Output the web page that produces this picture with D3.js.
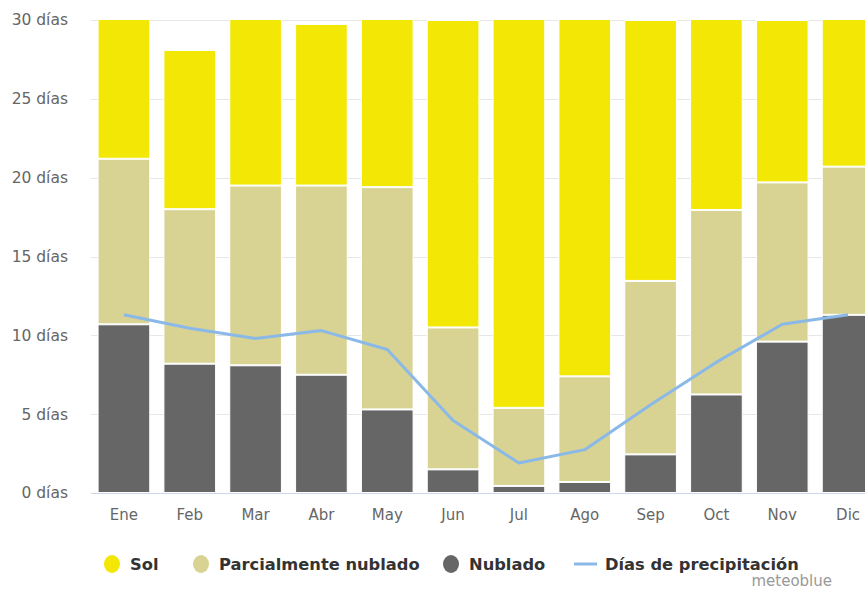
<!DOCTYPE html>
<html>
<head>
<meta charset="utf-8">
<script src="https://cdnjs.cloudflare.com/ajax/libs/d3/7.8.5/d3.min.js"></script>
<style>
    body { margin: 0; background: #fff; }
    svg { display: block; font-family: "DejaVu Sans", Verdana, sans-serif; }
</style>
</head>
<body>
<script>
//Chart data (days per month)
var months = ["Ene", "Feb", "Mar", "Abr", "May", "Jun", "Jul", "Ago", "Sep", "Oct", "Nov", "Dic"];
var nublado = [10.7, 8.2, 8.1, 7.5, 5.3, 1.5, 0.45, 0.7, 2.45, 6.25, 9.6, 11.3];
var parcial = [10.5, 9.8, 11.4, 12.0, 14.1, 9.0, 4.95, 6.7, 11.0, 11.7, 10.1, 9.4];
var sol = [9.8, 10.1, 11.5, 10.25, 11.6, 19.5, 25.6, 23.6, 16.55, 13.05, 10.3, 10.3];
var precipitacion = [11.3, 10.45, 9.8, 10.3, 9.1, 4.6, 1.9, 2.75, 5.6, 8.3, 10.7, 11.3];
var yTicks = [0, 5, 10, 15, 20, 25, 30];

var width = 865, heigth = 590;
var margin = {top: 20, left: 91, bottom: 493};

var colors = {sol: "#f3e805", parcial: "#d8d393", nublado: "#666666", lluvia: "#8ab9e8"};

var svg = d3.select("body").append("svg")
        .attr("width", width)
        .attr("height", heigth);

var x = d3.scaleBand()
        .domain(months)
        .range([margin.left, 881])
        .paddingInner(0.2)
        .paddingOuter(0.1);

var y = d3.scaleLinear()
        .domain([0, 30])
        .range([margin.bottom, margin.top]);

//Gridlines
svg.append("g")
        .selectAll("line")
        .data(yTicks)
        .enter().append("line")
        .attr("x1", margin.left)
        .attr("x2", width)
        .attr("y1", function(d) { return Math.round(y(d)) + 0.5; })
        .attr("y2", function(d) { return Math.round(y(d)) + 0.5; })
        .attr("stroke", "#e6e6e6");

//Y axis labels
var yAxis = d3.axisLeft(y)
        .tickValues(yTicks)
        .tickSize(0)
        .tickPadding(0)
        .tickFormat(function(d) { return d + " días"; });

svg.append("g")
        .attr("transform", "translate(68,0)")
        .call(yAxis)
        .call(function(g) { g.select(".domain").remove(); })
        .selectAll("text")
        .attr("fill", "#666")
        .style("font-size", "15.5px")
        .style("font-family", "DejaVu Sans");

//Stack the three series
var table = months.map(function(m, i) {
    return {month: m, nublado: nublado[i], parcial: parcial[i], sol: sol[i]};
});
var stack = d3.stack().keys(["nublado", "parcial", "sol"]);

svg.append("clipPath")
        .attr("id", "plot")
        .append("rect")
        .attr("x", margin.left)
        .attr("y", margin.top)
        .attr("width", 900)
        .attr("height", margin.bottom - margin.top);

var layers = svg.append("g")
        .attr("clip-path", "url(#plot)")
        .selectAll("g")
        .data(stack(table))
        .enter().append("g")
        .attr("fill", function(d) { return colors[d.key]; });

layers.selectAll("rect")
        .data(function(d) { return d; })
        .enter().append("rect")
        .attr("x", function(d) { return x(d.data.month) + 0.5; })
        .attr("width", x.bandwidth() - 1)
        .attr("y", function(d) { return y(d[1]) + 0.5; })
        .attr("height", function(d) { return Math.max(0, y(d[0]) - y(d[1]) - 1); })
        .attr("stroke", "#fff")
        .attr("stroke-width", 1);

//Axis line
svg.append("line")
        .attr("x1", margin.left)
        .attr("x2", width)
        .attr("y1", margin.bottom + 0.5)
        .attr("y2", margin.bottom + 0.5)
        .attr("stroke", "#ccd6eb");

//Month labels
var xAxis = d3.axisBottom(x).tickSize(0).tickPadding(0);
svg.append("g")
        .attr("transform", "translate(0,509)")
        .call(xAxis)
        .call(function(g) { g.select(".domain").remove(); })
        .selectAll("text")
        .attr("fill", "#666")
        .style("font-size", "15px")
        .style("font-family", "DejaVu Sans");

//Precipitation line
var line = d3.line()
        .x(function(d, i) { return x(months[i]) + x.bandwidth() / 2; })
        .y(function(d) { return y(d); });

svg.append("path")
        .datum(precipitacion)
        .attr("d", line)
        .attr("fill", "none")
        .attr("stroke", colors.lluvia)
        .attr("stroke-width", 3)
        .attr("stroke-linejoin", "round");

///////////////////////////// Legend /////////////////////////////
var legend = [
    {label: "Sol", color: colors.sol, x: 112, type: "dot"},
    {label: "Parcialmente nublado", color: colors.parcial, x: 201, type: "dot"},
    {label: "Nublado", color: colors.nublado, x: 451, type: "dot"},
    {label: "Días de precipitación", color: colors.lluvia, x: 585, type: "line"}
];

var items = svg.append("g")
        .selectAll("g")
        .data(legend)
        .enter().append("g")
        .attr("transform", function(d) { return "translate(" + d.x + ",564)"; });

items.filter(function(d) { return d.type === "dot"; })
        .append("ellipse")
        .attr("rx", 8)
        .attr("ry", 9)
        .attr("fill", function(d) { return d.color; });

items.filter(function(d) { return d.type === "line"; })
        .append("line")
        .attr("x1", -11)
        .attr("x2", 12)
        .attr("stroke", function(d) { return d.color; })
        .attr("stroke-width", 3);

items.append("text")
        .attr("x", function(d) { return d.type === "dot" ? 18 : 20; })
        .attr("dy", "0.36em")
        .attr("fill", "#333")
        .style("font-size", "16.3px")
        .style("font-weight", "bold")
        .text(function(d) { return d.label; });

svg.append("text")
        .attr("x", 832)
        .attr("y", 586)
        .attr("text-anchor", "end")
        .attr("fill", "#999")
        .style("font-size", "15px")
        .text("meteoblue");
</script>
</body>
</html>
